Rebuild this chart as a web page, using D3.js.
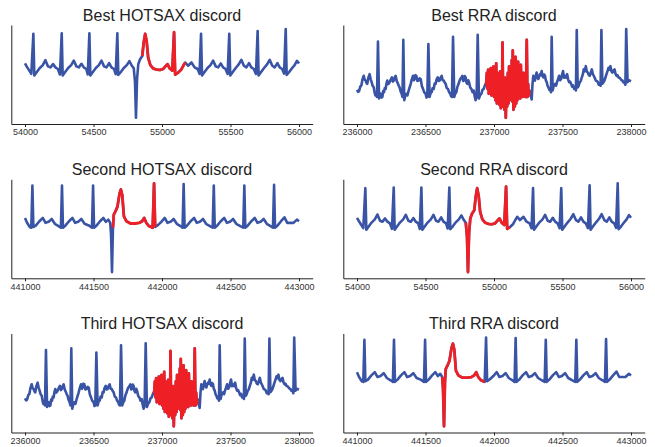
<!DOCTYPE html>
<html>
<head>
<meta charset="utf-8">
<script src="https://cdn.jsdelivr.net/npm/d3@7"></script>
<style>
  body { margin: 0; background: #fff; }
  svg { display: block; font-family: "Liberation Sans", Arial, Helvetica, sans-serif; }
</style>
</head>
<body>
<div id="chart"></div>
<script>
// ECG excerpt around 54000-56000
const ecgA = [
  [54000, 0.17], [54012, 0.08], [54027, -0.02], [54046, -0.15], [54061, 1.08], [54068, -0.2], [54085, -0.1],
  [54108, 0.03], [54130, 0.12], [54149, 0.27], [54168, 0.08], [54186, 0.05], [54205, 0.15], [54222, 0.05],
  [54240, 0.0], [54255, -0.17],
  [54268, 1.1], [54275, -0.2], [54292, -0.1], [54315, 0.03], [54337, 0.12], [54356, 0.26], [54375, 0.08],
  [54393, 0.05], [54412, 0.16], [54429, 0.05], [54447, 0.0], [54458, -0.17],
  [54470, 1.1], [54477, -0.2], [54494, -0.1], [54517, 0.03], [54539, 0.12], [54558, 0.26], [54577, 0.08],
  [54595, 0.05], [54614, 0.18], [54631, 0.05], [54650, 0.0], [54662, -0.16],
  [54674, 1.1], [54681, -0.18], [54698, -0.1], [54721, 0.03], [54743, 0.12], [54762, 0.24], [54780, 0.1],
  [54794, 0.02], [54803, -0.4], [54810, -1.5], [54818, -0.3], [54827, 0.15], [54840, 0.3], [54856, 0.4],
  [54866, 0.8], [54877, 1.08], [54888, 0.85], [54899, 0.35], [54915, 0.12], [54935, 0.02], [54960, -0.02],
  [54985, -0.03], [55008, 0.0], [55025, 0.08], [55040, 0.15], [55056, 0.02], [55075, -0.05], [55088, 1.13],
  [55096, -0.17], [55115, -0.12], [55140, -0.02], [55158, 0.12], [55170, 0.2], [55190, 0.1], [55215, 0.2],
  [55238, 0.05], [55260, 0.0], [55274, -0.15],
  [55285, 1.08], [55292, -0.2], [55309, -0.1], [55332, 0.03], [55354, 0.12], [55373, 0.26], [55392, 0.08],
  [55410, 0.05], [55429, 0.17], [55446, 0.05], [55464, 0.0], [55479, -0.15],
  [55491, 1.08], [55498, -0.2], [55515, -0.1], [55538, 0.03], [55560, 0.14], [55579, 0.28], [55598, 0.1],
  [55616, 0.05], [55635, 0.18], [55652, 0.05], [55670, 0.0], [55686, -0.15],
  [55698, 1.17], [55705, -0.2], [55722, -0.1], [55745, 0.03], [55767, 0.14], [55786, 0.28], [55805, 0.1],
  [55823, 0.05], [55842, 0.18], [55859, 0.05], [55877, 0.0], [55891, -0.14],
  [55903, 1.23], [55910, -0.18], [55927, -0.1], [55950, 0.03], [55968, 0.12], [55985, 0.25], [56000, 0.17]
];

// noisy ECG excerpt around 236000-238000
const ecgB = [
  [236000, -0.08], [236008, -0.14], [236015, -0.12], [236024, 0.02], [236032, 0.06], [236040, 0.25], [236049, 0.36],
  [236056, 0.24], [236063, 0.21], [236069, 0.14], [236075, 0.11], [236083, 0.3], [236092, 0.41], [236100, 0.25],
  [236107, 0.16], [236114, 0.05], [236122, 0.0], [236128, -0.15], [236134, -0.25], [236140, -0.18], [236146, -0.3],
  [236153, 1.43], [236161, -0.35], [236167, -0.22], [236173, -0.2], [236179, -0.32], [236185, -0.3], [236191, -0.12],
  [236197, -0.15], [236203, -0.02], [236209, -0.05], [236215, 0.12], [236221, 0.21], [236229, 0.1], [236238, 0.16],
  [236246, 0.24], [236255, 0.31], [236262, 0.18], [236268, 0.21], [236275, 0.3], [236282, 0.36], [236290, 0.2],
  [236299, 0.11], [236305, 0.05], [236311, 0.0], [236318, -0.12], [236326, -0.2], [236332, -0.3],
  [236338, 1.48], [236345, -0.4], [236352, -0.28], [236360, -0.2], [236368, -0.25], [236377, -0.1], [236384, 0.0],
  [236392, 0.11], [236400, 0.25], [236409, 0.36], [236415, 0.22], [236421, 0.26], [236427, 0.38], [236433, 0.36],
  [236441, 0.2], [236450, 0.21], [236457, 0.28], [236465, 0.26], [236473, 0.05], [236482, -0.05], [236490, -0.15],
  [236501, -0.2], [236507, -0.32], [236513, -0.3],
  [236521, 1.35], [236530, -0.3], [236537, -0.18], [236545, -0.15], [236552, -0.02], [236560, -0.05], [236567, 0.12],
  [236574, 0.11], [236581, 0.25], [236589, 0.31], [236596, 0.2], [236603, 0.21], [236610, 0.3], [236618, 0.36],
  [236625, 0.22], [236633, 0.21], [236640, 0.15], [236647, 0.11], [236655, -0.02], [236664, -0.05], [236672, -0.15],
  [236681, -0.2], [236687, -0.28], [236693, -0.3],
  [236701, 1.58], [236710, -0.3], [236717, -0.2], [236725, -0.15], [236733, 0.02], [236742, 0.11], [236748, 0.2],
  [236754, 0.26], [236762, 0.3], [236769, 0.36], [236775, 0.2], [236781, 0.21], [236787, 0.35], [236793, 0.31],
  [236799, 0.15], [236805, 0.11], [236812, 0.22], [236818, 0.16], [236826, 0.0], [236835, -0.05], [236843, -0.15],
  [236852, -0.1], [236860, -0.3], [236866, -0.4], [236873, -0.3],
  [236881, 1.64], [236890, -0.35], [236898, -0.25], [236908, -0.2], [236916, -0.08], [236925, -0.05], [236933, 0.05],
  [236939, 0.11],
  [236943, 0.1], [236948, 0.45], [236953, -0.05], [236957, 0.55], [236962, -0.2], [236967, 0.5], [236972, -0.1],
  [236977, 0.6], [236982, -0.25], [236987, 0.35], [236991, -0.15], [236996, 0.65], [237001, -0.3], [237006, 0.55],
  [237011, -0.4], [237016, 0.75], [237021, -0.5], [237025, 0.45], [237030, -0.45], [237035, 0.3], [237040, -0.55],
  [237045, 0.5], [237050, -0.65], [237055, 0.3], [237059, -0.4], [237062, 1.4], [237067, -0.6], [237072, 0.2],
  [237076, -0.7], [237081, 0.3], [237086, -0.95], [237091, 0.0], [237096, -0.6], [237101, 0.45], [237106, -0.5],
  [237110, 0.65], [237115, -0.4], [237120, 0.2], [237125, -0.3], [237130, 0.85], [237135, -0.45], [237137, 1.15],
  [237142, -0.7], [237147, 0.6], [237152, -0.6], [237157, 0.95], [237162, -0.5], [237166, 0.4], [237171, -0.4],
  [237176, 0.8], [237181, -0.3], [237186, 0.45], [237191, -0.35], [237196, 0.7], [237200, -0.25], [237205, 0.3],
  [237210, -0.3], [237215, 0.45], [237220, -0.25], [237225, 0.15], [237230, -0.3], [237234, 0.0], [237239, 1.48],
  [237244, -0.3], [237249, 0.1], [237254, -0.25], [237259, -0.1],
  [237264, -0.2], [237275, -0.38], [237281, 0.1], [237287, 0.36], [237293, 0.25], [237299, 0.21], [237305, 0.35],
  [237311, 0.46], [237318, 0.3], [237324, 0.26], [237330, 0.35], [237336, 0.41], [237342, 0.38], [237348, 0.51],
  [237354, 0.35], [237360, 0.31], [237366, 0.4], [237372, 0.36], [237378, 0.22], [237385, 0.16], [237391, 0.05],
  [237397, 0.0], [237404, -0.08], [237411, -0.05], [237416, -0.15],
  [237421, 1.58], [237428, -0.1], [237436, 0.05], [237446, 0.11], [237453, 0.05], [237460, 0.16], [237467, 0.25],
  [237475, 0.36], [237482, 0.22], [237490, 0.26], [237497, 0.4], [237504, 0.51], [237511, 0.3], [237519, 0.36],
  [237526, 0.3], [237534, 0.41], [237541, 0.25], [237548, 0.16], [237555, 0.18], [237563, 0.11], [237570, 0.02],
  [237577, 0.06], [237585, -0.05], [237592, 0.0], [237598, -0.1],
  [237604, 1.79], [237611, 0.0], [237618, 0.05], [237626, 0.16], [237633, 0.2], [237641, 0.31], [237648, 0.4],
  [237655, 0.56], [237662, 0.5], [237670, 0.66], [237677, 0.5], [237685, 0.46], [237692, 0.38], [237699, 0.36],
  [237706, 0.45], [237714, 0.56], [237721, 0.42], [237728, 0.36], [237735, 0.3], [237743, 0.21], [237750, 0.2],
  [237758, 0.16], [237765, 0.08], [237772, 0.11], [237778, 0.05],
  [237784, 1.79], [237791, 0.11], [237798, 0.15], [237806, 0.21], [237813, 0.3], [237821, 0.41], [237828, 0.5],
  [237836, 0.61], [237843, 0.55], [237850, 0.66], [237857, 0.5], [237865, 0.46], [237872, 0.52], [237880, 0.56],
  [237887, 0.42], [237894, 0.36], [237901, 0.38], [237909, 0.31], [237916, 0.3], [237924, 0.26], [237931, 0.22],
  [237938, 0.21], [237945, 0.15], [237953, 0.16], [237959, 0.08],
  [237965, 1.82], [237975, 0.16], [237983, 0.22], [237990, 0.21], [238000, 0.19]
];

// ECG excerpt around 441000-443000
const ecgC = [
  [441000, 0.2], [441015, 0.05], [441035, -0.08], [441046, -0.1], [441054, 1.2], [441061, -0.08], [441080, -0.03],
  [441105, 0.1], [441130, 0.2], [441150, 0.05], [441172, 0.08], [441195, 0.17], [441218, 0.02], [441245, -0.05],
  [441262, -0.1],
  [441270, 1.2], [441277, -0.1], [441296, -0.03], [441321, 0.1], [441346, 0.2], [441366, 0.05], [441388, 0.08],
  [441411, 0.17], [441435, 0.02], [441465, -0.03], [441489, -0.1],
  [441497, 1.2], [441504, -0.1], [441523, -0.03], [441548, 0.1], [441572, 0.2], [441590, 0.08], [441608, 0.15],
  [441622, 0.05], [441628, -0.3], [441635, -1.47], [441642, -0.1], [441648, 0.3], [441660, 0.4], [441675, 0.55],
  [441690, 0.95], [441700, 1.08], [441710, 0.9], [441722, 0.25], [441740, 0.1], [441770, 0.03], [441805, 0.03],
  [441835, 0.05], [441855, 0.1], [441870, 0.2], [441885, 0.05], [441905, -0.05], [441932, -0.1],
  [441942, 1.27], [441950, -0.08], [441970, -0.02], [441995, 0.08], [442020, 0.2], [442040, 0.05], [442062, 0.08],
  [442085, 0.17], [442108, 0.02], [442135, -0.05], [442150, -0.1],
  [442158, 1.25], [442165, -0.1], [442184, -0.03], [442209, 0.1], [442234, 0.2], [442254, 0.05], [442276, 0.08],
  [442299, 0.17], [442322, 0.02], [442350, -0.05], [442370, -0.1],
  [442378, 1.2], [442385, -0.1], [442404, -0.03], [442429, 0.1], [442454, 0.2], [442474, 0.05], [442496, 0.08],
  [442519, 0.17], [442542, 0.02], [442572, -0.05], [442593, -0.1],
  [442601, 1.2], [442608, -0.1], [442627, -0.03], [442652, 0.1], [442677, 0.2], [442697, 0.05], [442719, 0.08],
  [442742, 0.17], [442765, 0.02], [442792, -0.05], [442810, -0.1],
  [442818, 1.22], [442825, -0.1], [442844, -0.03], [442869, 0.1], [442894, 0.22], [442914, 0.05], [442960, 0.05],
  [442985, 0.15], [443000, 0.1]
];

const signals = { A: ecgA, B: ecgB, C: ecgC };
const windowStarts = { A: 54000, B: 236000, C: 441000 };

const titles = [
  "Best HOTSAX discord", "Best RRA discord",
  "Second HOTSAX discord", "Second RRA discord",
  "Third HOTSAX discord", "Third RRA discord"
];
const panelSignals = ["A", "B", "C", "A", "B", "C"];
const discords = [
  [54855, 55170], [236935, 237262],
  [441640, 441951], [54794, 55115],
  [236935, 237260], [441620, 441936]
];

const width = 655;
const height = 447;
const colLeft = [11.3, 343.3];
const rowTop = [25, 179.3, 333.5];
const plotW = 301.4;
const plotH = 99;

const blue = "#3a54a5";
const red = "#ee2026";

const svg = d3.select("#chart")
  .append("svg")
  .attr("width", width)
  .attr("height", height);

titles.forEach((title, i) => {
  const col = i % 2;
  const row = Math.floor(i / 2);
  const x0 = colLeft[col];
  const y0 = rowTop[row];
  const data = signals[panelSignals[i]];
  const start = windowStarts[panelSignals[i]];

  const g = svg.append("g").attr("class", "panel");

  const x = d3.scaleLinear()
    .domain([start - 100, start + 2100])
    .range([x0, x0 + plotW]);

  const [yMin, yMax] = d3.extent(data, (d) => d[1]);
  const span = yMax - yMin;
  const y = d3.scaleLinear()
    .domain([yMin - span * 0.07, yMax + span * 0.045])
    .range([y0 + plotH, y0]);

  const line = d3.line()
    .x((d) => x(d[0]))
    .y((d) => y(d[1]));

  g.append("path")
    .datum(data)
    .attr("fill", "none")
    .attr("stroke", blue)
    .attr("stroke-width", 2.6)
    .attr("stroke-linejoin", "round")
    .attr("d", line);

  // discord subsequence on top
  const [r0, r1] = discords[i];
  g.append("path")
    .datum(data.filter((d) => d[0] >= r0 && d[0] <= r1))
    .attr("fill", "none")
    .attr("stroke", red)
    .attr("stroke-width", 2.8)
    .attr("stroke-linejoin", "round")
    .attr("d", line);

  // axes
  const xAxis = g.append("g")
    .attr("transform", `translate(0,${y0 + plotH})`)
    .call(d3.axisBottom(x)
      .tickValues(d3.range(start, start + 2001, 500))
      .tickFormat(d3.format("d"))
      .tickSize(3)
      .tickSizeOuter(0));
  xAxis.selectAll("text")
    .attr("font-size", "9px")
    .attr("font-family", "'Liberation Sans', Arial, sans-serif")
    .attr("fill", "#333")
    .attr("dy", "0.71em")
    .attr("y", 5);
  xAxis.selectAll("line").attr("stroke", "#222");
  xAxis.select(".domain").attr("stroke", "#222");

  const yAxis = g.append("g")
    .attr("transform", `translate(${x0},0)`)
    .call(d3.axisLeft(y).tickValues([]).tickSizeOuter(0));
  yAxis.select(".domain").attr("stroke", "#222");

  g.append("text")
    .attr("x", x0 + plotW / 2)
    .attr("y", y0 - 4.5)
    .attr("text-anchor", "middle")
    .attr("font-size", "16px")
    .attr("fill", "#222")
    .text(title);
});
</script>
</body>
</html>
